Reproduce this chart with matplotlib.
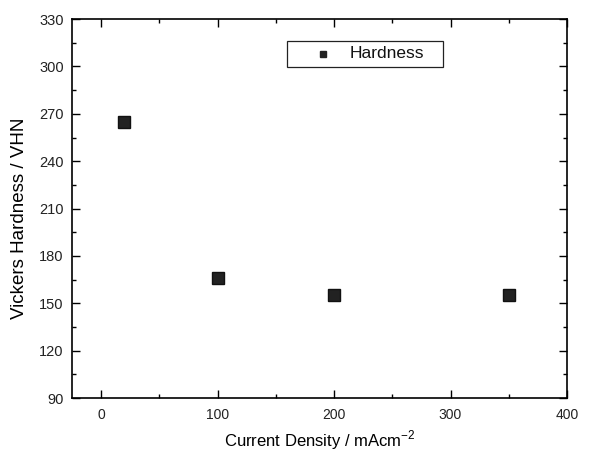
import matplotlib
matplotlib.use("Agg")
import matplotlib.pyplot as plt
from matplotlib.ticker import MultipleLocator
from matplotlib.patches import Rectangle

plt.rcParams['font.family'] = ['Liberation Sans', 'DejaVu Sans']

current_density = [20, 100, 200, 350]
hardness = [265, 166, 155, 155]
series_label = 'Hardness'

fig = plt.figure(figsize=(5.9, 4.54), dpi=100)
ax = fig.add_axes([0.122, 0.123, 0.839, 0.835])

ax.plot(current_density, hardness, linestyle='none', marker='s', markersize=8,
        color='#222222', markeredgecolor='#111111', label=series_label)

ax.set_xlim(-25, 400)
ax.set_ylim(90, 330)
ax.xaxis.set_major_locator(MultipleLocator(100))
ax.xaxis.set_minor_locator(MultipleLocator(50))
ax.yaxis.set_major_locator(MultipleLocator(30))
ax.yaxis.set_minor_locator(MultipleLocator(15))
ax.tick_params(which='both', direction='in', top=True, right=True, width=1,
               labelcolor='#222222')
ax.tick_params(axis='y', labelsize=10.5)
ax.tick_params(axis='x', labelsize=10)
ax.tick_params(which='major', length=6)
ax.tick_params(axis='y', which='major', pad=6)
ax.tick_params(axis='x', which='major', pad=7)
ax.tick_params(which='minor', length=3)
for s in ax.spines.values():
    s.set_linewidth(1.2)

ax.set_xlabel('Current Density / mAcm$^{\\mathregular{-2}}$', fontsize=12)
ax.xaxis.label.set_va('baseline')
ax.xaxis.set_label_coords(0.50, -0.127)
ax.set_ylabel('Vickers Hardness / VHN', fontsize=13.5)
ax.yaxis.label.set_va('center')
ax.yaxis.set_label_coords(-0.106, 0.475)

# legend box drawn manually to match reference spacing
ax.add_patch(Rectangle((0.434, 0.873), 0.315, 0.069, transform=ax.transAxes,
                       facecolor='white', edgecolor='#222222', linewidth=0.9, zorder=5))
ax.plot([0.507], [0.908], transform=ax.transAxes, linestyle='none', marker='s',
        markersize=5, color='#222222', zorder=6, clip_on=False)
ax.text(0.560, 0.908, series_label, transform=ax.transAxes, fontsize=12.5,
        va='center', ha='left', color='#111111', zorder=6)

fig.savefig('out.png', dpi=100)
